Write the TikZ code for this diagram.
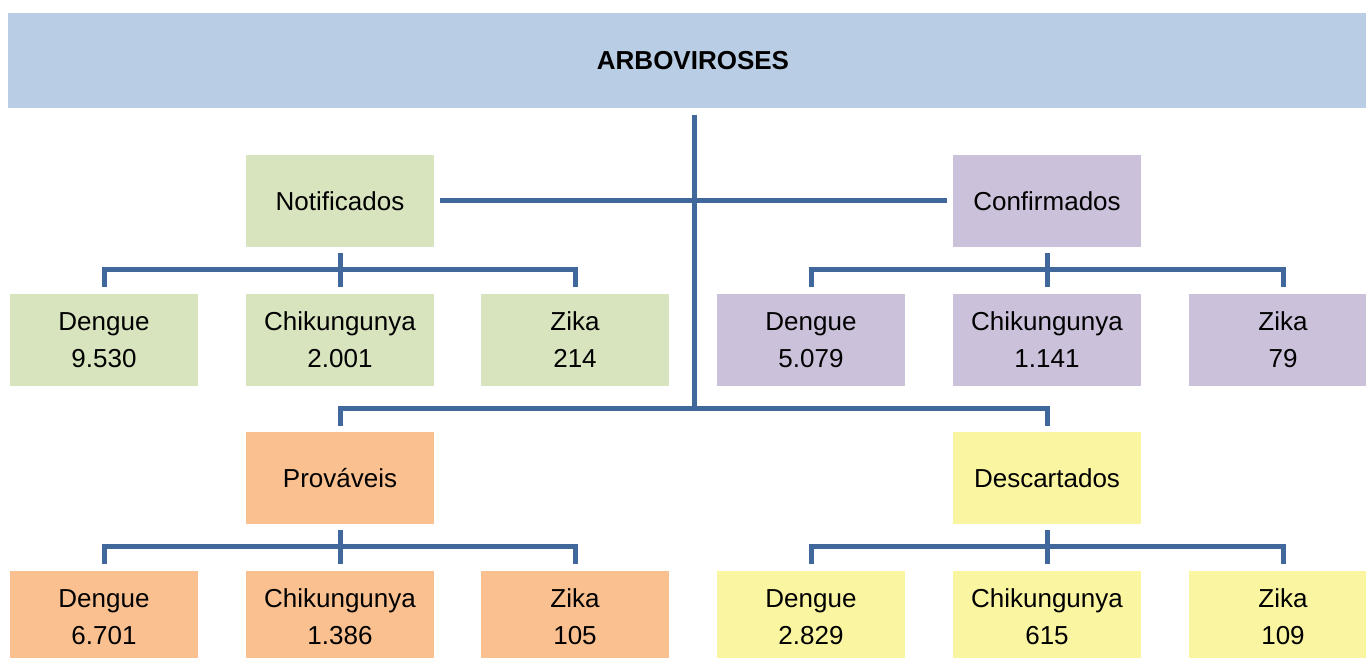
\documentclass[tikz,border=0pt]{standalone}
\usepackage{fontspec}
\setmainfont{Liberation Sans}
\usepackage{tikz}
\usetikzlibrary{positioning}
\usetikzlibrary{calc}
\definecolor{bannerblue}{RGB}{185, 205, 229}
\definecolor{diagramgreen}{RGB}{215, 228, 189}
\definecolor{diagrampurple}{RGB}{204, 193, 218}
\definecolor{diagramorange}{RGB}{250, 192, 144}
\definecolor{diagramyellow}{RGB}{250, 245, 160}
\definecolor{linkblue}{RGB}{64, 104, 156}

\begin{document}
\begin{tikzpicture}[x=1pt, y=1pt,
        every node/.style={align=center, font=\fontsize{26}{37}\selectfont},
        box/.style={rectangle, inner sep=0pt, minimum width=188pt, minimum height=92pt},
        link/.style={draw=linkblue, line width=5pt}]

        \clip (0,0) rectangle (1366,657);
        \fill[white] (0,0) rectangle (1366,657);

        % Banner
        \node[box, fill=bannerblue, minimum width=1370pt, minimum height=95pt] (titleBox) at (693,596.5) {\textbf{ARBOVIROSES}};

        % Notificados
        \node[box, fill=diagramgreen] (notifBox) at (340,456) {Notificados};
        \node[box, fill=diagramgreen] (notifDengue) at (104,317) {Dengue\\9.530};
        \node[box, fill=diagramgreen] (notifChik) at (340,317) {Chikungunya\\2.001};
        \node[box, fill=diagramgreen] (notifZika) at (575,317) {Zika\\214};

        % Confirmados
        \node[box, fill=diagrampurple] (confBox) at (1047,456) {Confirmados};
        \node[box, fill=diagrampurple] (confDengue) at (811,317) {Dengue\\5.079};
        \node[box, fill=diagrampurple] (confChik) at (1047,317) {Chikungunya\\1.141};
        \node[box, fill=diagrampurple] (confZika) at (1283,317) {Zika\\79};

        % Provaveis
        \node[box, fill=diagramorange] (provBox) at (340,179) {Prováveis};
        \node[box, fill=diagramorange] (provDengue) at (104,40) {Dengue\\6.701};
        \node[box, fill=diagramorange] (provChik) at (340,40) {Chikungunya\\1.386};
        \node[box, fill=diagramorange] (provZika) at (575,40) {Zika\\105};

        % Descartados
        \node[box, fill=diagramyellow] (descBox) at (1047,179) {Descartados};
        \node[box, fill=diagramyellow] (descDengue) at (811,40) {Dengue\\2.829};
        \node[box, fill=diagramyellow] (descChik) at (1047,40) {Chikungunya\\615};
        \node[box, fill=diagramyellow] (descZika) at (1283,40) {Zika\\109};

        % Trunk and branches
        \coordinate (hub) at ($(titleBox.south |- provBox.north) + (1,23)$);
        \draw[link] ([xshift=1pt, yshift=-7pt]titleBox.south) -- (hub);
        \draw[link] ([xshift=6pt]notifBox.east) -- ([xshift=-6pt]confBox.west);
        \draw[link] ([yshift=6pt]provBox.north) -- ++(0,17) -| ([yshift=6pt]descBox.north);

        % Brackets to the children
        \draw[link] ([yshift=-6pt]notifBox.south) -- ([yshift=7pt]notifChik.north);
        \draw[link] ([yshift=7pt]notifDengue.north) -- ++(0,17) -| ([yshift=7pt]notifZika.north);
        \draw[link] ([yshift=-6pt]confBox.south) -- ([yshift=7pt]confChik.north);
        \draw[link] ([yshift=7pt]confDengue.north) -- ++(0,17) -| ([yshift=7pt]confZika.north);
        \draw[link] ([yshift=-6pt]provBox.south) -- ([yshift=7pt]provChik.north);
        \draw[link] ([yshift=7pt]provDengue.north) -- ++(0,17) -| ([yshift=7pt]provZika.north);
        \draw[link] ([yshift=-6pt]descBox.south) -- ([yshift=7pt]descChik.north);
        \draw[link] ([yshift=7pt]descDengue.north) -- ++(0,17) -| ([yshift=7pt]descZika.north);

    \end{tikzpicture}
\end{document}
